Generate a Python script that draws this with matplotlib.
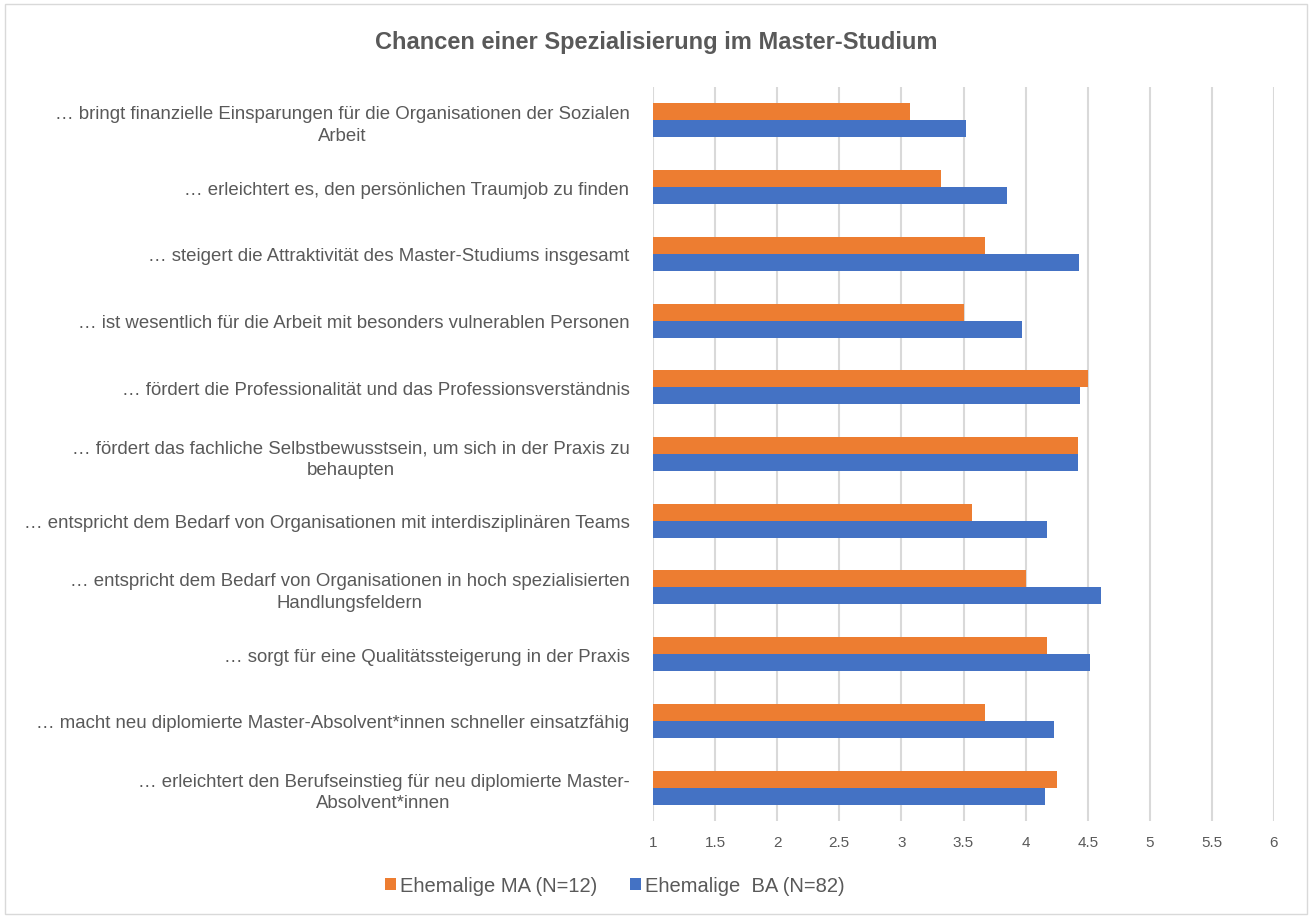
import numpy as np
import matplotlib.pyplot as plt

# Daten
labels = [
    "… bringt finanzielle Einsparungen für die Organisationen der Sozialen\nArbeit",
    "… erleichtert es, den persönlichen Traumjob zu finden",
    "… steigert die Attraktivität des Master-Studiums insgesamt",
    "… ist wesentlich für die Arbeit mit besonders vulnerablen Personen",
    "… fördert die Professionalität und das Professionsverständnis",
    "… fördert das fachliche Selbstbewusstsein, um sich in der Praxis zu\nbehaupten",
    "… entspricht dem Bedarf von Organisationen mit interdisziplinären Teams",
    "… entspricht dem Bedarf von Organisationen in hoch spezialisierten\nHandlungsfeldern",
    "… sorgt für eine Qualitätssteigerung in der Praxis",
    "… macht neu diplomierte Master-Absolvent*innen schneller einsatzfähig",
    "… erleichtert den Berufseinstieg für neu diplomierte Master-\nAbsolvent*innen",
]
ma_values = [3.07, 3.32, 3.67, 3.50, 4.50, 4.42, 3.57, 4.00, 4.17, 3.67, 4.25]
ba_values = [3.52, 3.85, 4.43, 3.97, 4.44, 4.42, 4.17, 4.61, 4.52, 4.23, 4.16]
ma_name = "Ehemalige MA (N=12)"
ba_name = "Ehemalige  BA (N=82)"
title = "Chancen einer Spezialisierung im Master-Studium"
xticks = [1, 1.5, 2, 2.5, 3, 3.5, 4, 4.5, 5, 5.5, 6]

plt.rcParams['font.family'] = ['Liberation Sans', 'DejaVu Sans']
grey = "#595959"
orange = "#ED7D31"
blue = "#4472C4"

fig = plt.figure(figsize=(13.12, 9.2), dpi=100)
ax = fig.add_axes([653 / 1312, 1 - 822 / 920, (1274 - 653) / 1312, (822 - 88) / 920])

y = np.arange(len(labels))
h = 0.255
ax.barh(y - h / 2, np.array(ma_values) - 1, left=1, height=h, color=orange, label=ma_name, zorder=3)
ax.barh(y + h / 2, np.array(ba_values) - 1, left=1, height=h, color=blue, label=ba_name, zorder=3)

ax.set_xlim(1, 6)
ax.set_ylim(len(labels) - 0.5, -0.5)
ax.set_xticks(xticks)
ax.set_xticklabels([f"{t:g}" for t in xticks])
ax.set_yticks(y)
ax.set_yticklabels(labels, multialignment="center", linespacing=1.35)
ax.tick_params(axis="both", length=0, colors=grey)
ax.tick_params(axis="x", labelsize=11, pad=10)
ax.tick_params(axis="y", labelsize=13.4, pad=17)
ax.grid(axis="x", color="#d9d9d9", linewidth=1.5, zorder=0)
for s in ax.spines.values():
    s.set_visible(False)

fig.text(0.5, 1 - 43 / 920, title, ha="center", va="center", fontsize=17,
         fontweight="bold", color=grey)

fig.legend(loc="center", bbox_to_anchor=(615 / 1312, 1 - 887 / 920), ncol=2, frameon=False,
           fontsize=14.5, handlelength=0.55, handleheight=0.55, handletextpad=0.2,
           columnspacing=1.6, labelcolor=grey)

# Rahmen
fig.patches.append(plt.Rectangle((5 / 1312, 5 / 920), 1302 / 1312, 910 / 920,
                                 transform=fig.transFigure, fill=False,
                                 edgecolor="#d9d9d9", linewidth=1))

fig.savefig("out.png", dpi=100)
